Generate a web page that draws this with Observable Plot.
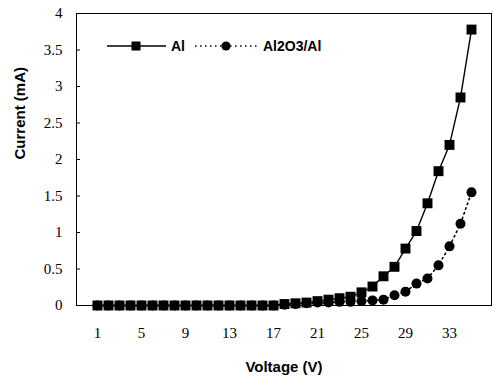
<!DOCTYPE html>
<html>
<head>
<meta charset="utf-8">
<script src="https://cdn.jsdelivr.net/npm/d3@7"></script>
<script src="https://cdn.jsdelivr.net/npm/@observablehq/plot@0.6"></script>
<style>
  html, body { margin: 0; padding: 0; background: #fff; }
  #wrap { position: relative; width: 494px; height: 383px; }
  #legend { position: absolute; left: 0; top: 0; }
  #legend text { font-family: "Liberation Sans", Arial, sans-serif; font-weight: bold; font-size: 14px; }
</style>
</head>
<body>
<div id="wrap"></div>
<script>
const voltage = d3.range(1, 36);
const alCurrent = [0,0,0,0,0,0,0,0,0,0,0,0,0,0,0,0,0,
  0.02,0.03,0.04,0.06,0.08,0.10,0.12,0.18,0.26,0.40,0.53,0.78,1.02,1.40,1.84,2.20,2.85,3.78];
const al2o3Current = [0,0,0,0,0,0,0,0,0,0,0,0,0,0,0,0,0,
  0.01,0.02,0.03,0.04,0.04,0.05,0.05,0.06,0.07,0.08,0.14,0.19,0.30,0.37,0.55,0.81,1.12,1.55];
const xTickLabels = [1,5,9,13,17,21,25,29,33];
const yTickLabels = [0,0.5,1,1.5,2,2.5,3,3.5,4];
const seriesNames = ["Al", "Al2O3/Al"];

const al = voltage.map((v, i) => ({v, c: alCurrent[i]}));
const ox = voltage.map((v, i) => ({v, c: al2o3Current[i]}));

const chart = Plot.plot({
  width: 494,
  height: 383,
  marginLeft: 76,
  marginRight: 3,
  marginTop: 13,
  marginBottom: 78,
  style: "font-family: 'Liberation Serif', 'DejaVu Serif', serif; font-size: 15px; color: #000; background: #fff;",
  x: {type: "point", domain: voltage, padding: 0.5},
  y: {domain: [0, 4]},
  marks: [
    Plot.frame({stroke: "#000", strokeWidth: 1}),
    Plot.axisX({ticks: xTickLabels, tickSize: 0, tickPadding: 22, label: null, fontFamily: "Liberation Serif", fontSize: 15}),
    Plot.axisY({ticks: yTickLabels, tickSize: -4, tickPadding: 18, tickFormat: d => String(d), label: null, fontFamily: "Liberation Serif", fontSize: 15}),
    Plot.line(ox, {x: "v", y: "c", stroke: "#000", strokeWidth: 1.6, strokeDasharray: "1.5,3.5"}),
    Plot.dot(ox, {x: "v", y: "c", r: 5, fill: "#000", stroke: "none"}),
    Plot.line(al, {x: "v", y: "c", stroke: "#000", strokeWidth: 1.4}),
    Plot.dot(al, {x: "v", y: "c", symbol: "square", r: 5.6, fill: "#000", stroke: "none"}),
    Plot.text(["Current (mA)"], {frameAnchor: "left", dx: -56, rotate: -90, fontFamily: "Liberation Sans", fontWeight: "bold", fontSize: 15}),
    Plot.text(["Voltage (V)"], {frameAnchor: "bottom", dy: 66, fontFamily: "Liberation Sans", fontWeight: "bold", fontSize: 15})
  ]
});

const wrap = document.getElementById("wrap");
wrap.appendChild(chart);

// Legend overlay
const ns = "http://www.w3.org/2000/svg";
const leg = document.createElementNS(ns, "svg");
leg.setAttribute("id", "legend");
leg.setAttribute("width", 494);
leg.setAttribute("height", 80);
leg.innerHTML = `
  <line x1="107" y1="46" x2="166" y2="46" stroke="#000" stroke-width="1.4"/>
  <rect x="131.5" y="41.5" width="9" height="9" fill="#000"/>
  <text x="171" y="51">${seriesNames[0]}</text>
  <line x1="195" y1="46" x2="258" y2="46" stroke="#000" stroke-width="1.6" stroke-dasharray="1.5,3.5"/>
  <circle cx="226" cy="46" r="4.6" fill="#000"/>
  <text x="263" y="51">${seriesNames[1]}</text>
`;
wrap.appendChild(leg);
</script>
</body>
</html>
